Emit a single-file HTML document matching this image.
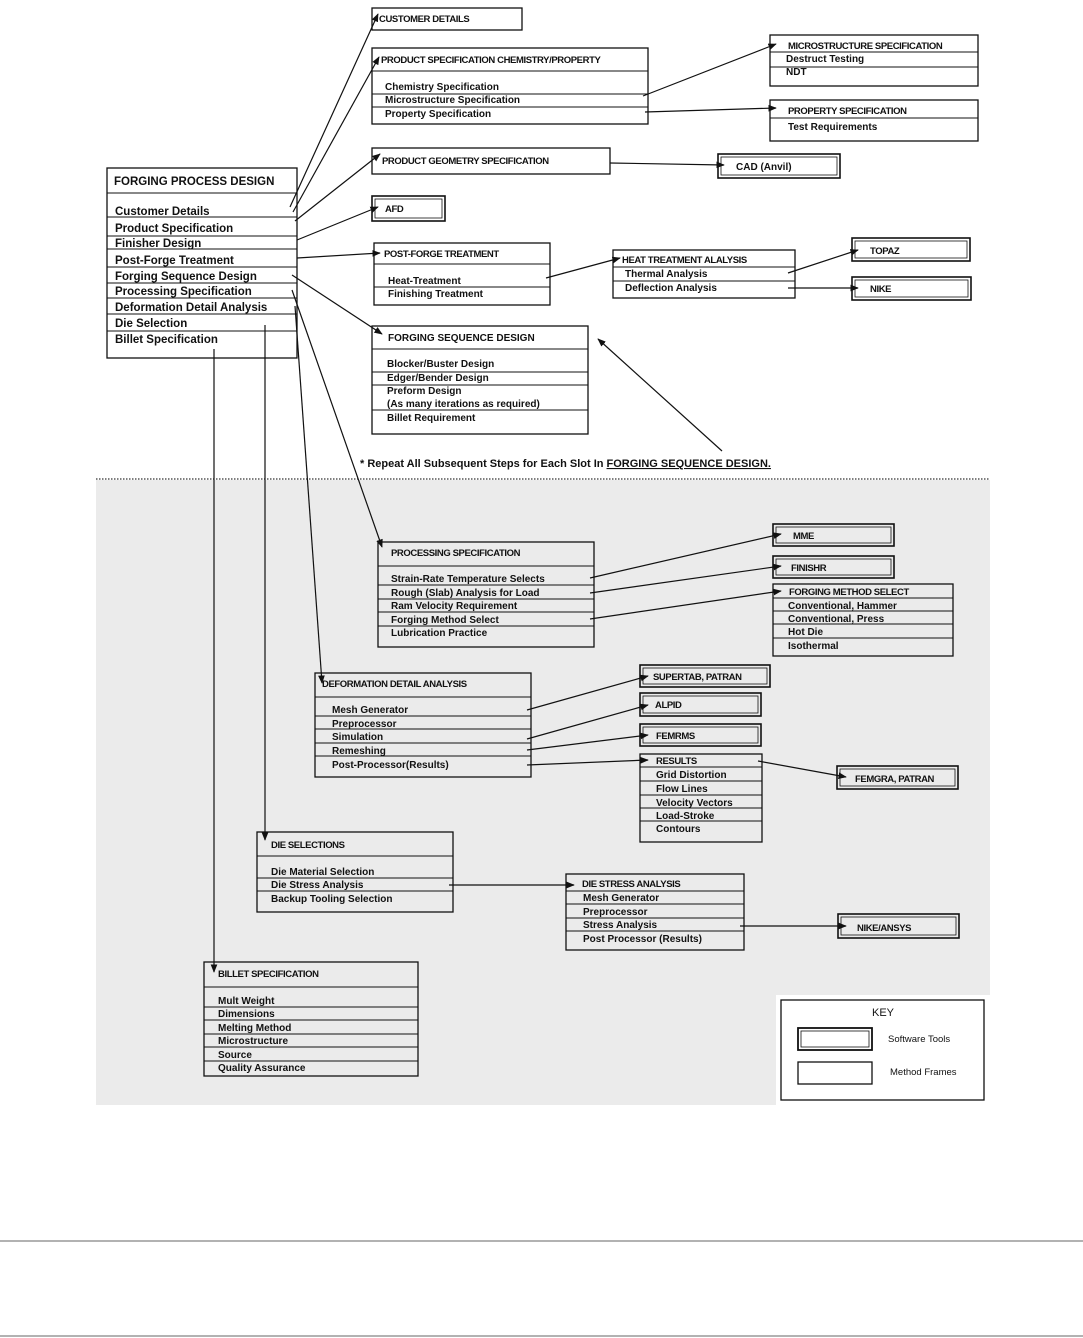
<!DOCTYPE html>
<html><head><meta charset="utf-8"><style>
html,body{margin:0;padding:0;background:#fff;}
svg{display:block;}
text{font-family:"Liberation Sans",Arial,sans-serif;font-weight:bold;font-size:10px;fill:#111;}
.t{font-size:9.5px;letter-spacing:-0.4px;}
.b{fill:none;stroke:#111;stroke-width:1.3;}
.l{stroke:#111;stroke-width:1.1;}
.c{stroke:#111;stroke-width:1.2;fill:none;}
</style></head><body>
<svg width="1083" height="1338" viewBox="0 0 1083 1338" xmlns="http://www.w3.org/2000/svg">
<defs><marker id="a" viewBox="0 0 10 10" refX="9" refY="5" markerWidth="7" markerHeight="7" orient="auto"><path d="M0,1 L10,5 L0,9 z" fill="#111"/></marker></defs>
<!-- gray area -->
<path d="M96,480 H990 V995 H776 V1105 H96 Z" fill="#ebebeb"/>
<line x1="96" y1="479" x2="990" y2="479" stroke="#555" stroke-width="1.5" stroke-dasharray="1.5,1.5"/>
<line x1="0" y1="1241" x2="1083" y2="1241" stroke="#666" stroke-width="1"/>
<line x1="0" y1="1336" x2="1083" y2="1336" stroke="#666" stroke-width="1"/>

<!-- FORGING PROCESS DESIGN -->
<rect class="b" x="107" y="168" width="190" height="190"/>
<g class="l"><line x1="107" y1="193" x2="297" y2="193"/><line x1="107" y1="217" x2="297" y2="217"/><line x1="107" y1="236" x2="297" y2="236"/><line x1="107" y1="249" x2="297" y2="249"/><line x1="107" y1="267" x2="297" y2="267"/><line x1="107" y1="283" x2="297" y2="283"/><line x1="107" y1="298" x2="297" y2="298"/><line x1="107" y1="314" x2="297" y2="314"/><line x1="107" y1="331" x2="297" y2="331"/></g>
<g style="font-size:11.5px">
<text x="114" y="185" style="font-size:11.5px">FORGING PROCESS DESIGN</text>
<text x="115" y="215" style="font-size:11.5px">Customer  Details</text>
<text x="115" y="232" style="font-size:11.5px">Product  Specification</text>
<text x="115" y="247" style="font-size:11.5px">Finisher  Design</text>
<text x="115" y="264" style="font-size:11.5px">Post-Forge  Treatment</text>
<text x="115" y="280" style="font-size:11.5px">Forging  Sequence  Design</text>
<text x="115" y="295" style="font-size:11.5px">Processing  Specification</text>
<text x="115" y="311" style="font-size:11.5px">Deformation  Detail  Analysis</text>
<text x="115" y="327" style="font-size:11.5px">Die  Selection</text>
<text x="115" y="343" style="font-size:11.5px">Billet  Specification</text>
</g>

<!-- CUSTOMER DETAILS -->
<rect class="b" x="372" y="8" width="150" height="22"/>
<text class="t" x="379" y="22">CUSTOMER DETAILS</text>

<!-- PRODUCT SPEC CHEM -->
<rect class="b" x="372" y="48" width="276" height="76"/>
<g class="l"><line x1="372" y1="71" x2="648" y2="71"/><line x1="372" y1="94" x2="648" y2="94"/><line x1="372" y1="107" x2="648" y2="107"/></g>
<text class="t" x="381" y="63">PRODUCT SPECIFICATION CHEMISTRY/PROPERTY</text>
<text x="385" y="90">Chemistry  Specification</text>
<text x="385" y="103">Microstructure  Specification</text>
<text x="385" y="117">Property  Specification</text>

<!-- MICRO SPEC -->
<rect class="b" x="770" y="35" width="208" height="51"/>
<g class="l"><line x1="770" y1="52" x2="978" y2="52"/><line x1="770" y1="67" x2="978" y2="67"/></g>
<text class="t" x="788" y="49">MICROSTRUCTURE SPECIFICATION</text>
<text x="786" y="62">Destruct  Testing</text>
<text x="786" y="75">NDT</text>

<!-- PROPERTY SPEC -->
<rect class="b" x="770" y="100" width="208" height="41"/>
<line class="l" x1="770" y1="118" x2="978" y2="118"/>
<text class="t" x="788" y="114">PROPERTY SPECIFICATION</text>
<text x="788" y="130">Test  Requirements</text>

<!-- GEOMETRY -->
<rect class="b" x="372" y="148" width="238" height="26"/>
<text class="t" x="382" y="164">PRODUCT GEOMETRY SPECIFICATION</text>

<!-- CAD -->
<rect class="b" x="718" y="154" width="122" height="24" style="stroke-width:1.6"/>
<rect class="b" x="721" y="157" width="116" height="18" style="stroke-width:0.8"/>
<text x="736" y="170">CAD  (Anvil)</text>

<!-- AFD -->
<rect class="b" x="372" y="196" width="73" height="25" style="stroke-width:1.6"/>
<rect class="b" x="375" y="199" width="67" height="19" style="stroke-width:0.8"/>
<text class="t" x="385" y="212">AFD</text>

<!-- POST-FORGE -->
<rect class="b" x="374" y="243" width="176" height="62"/>
<g class="l"><line x1="374" y1="264" x2="550" y2="264"/><line x1="374" y1="287" x2="550" y2="287"/></g>
<text class="t" x="384" y="257">POST-FORGE TREATMENT</text>
<text x="388" y="284">Heat-Treatment</text>
<text x="388" y="297">Finishing  Treatment</text>

<!-- HEAT TREATMENT -->
<rect class="b" x="613" y="250" width="182" height="48"/>
<g class="l"><line x1="613" y1="267" x2="795" y2="267"/><line x1="613" y1="281" x2="795" y2="281"/></g>
<text class="t" x="622" y="263">HEAT TREATMENT ALALYSIS</text>
<text x="625" y="277">Thermal  Analysis</text>
<text x="625" y="291">Deflection  Analysis</text>

<!-- TOPAZ / NIKE -->
<rect class="b" x="852" y="238" width="118" height="23" style="stroke-width:1.6"/>
<rect class="b" x="855" y="241" width="112" height="17" style="stroke-width:0.8"/>
<text class="t" x="870" y="254">TOPAZ</text>
<rect class="b" x="852" y="277" width="119" height="23" style="stroke-width:1.6"/>
<rect class="b" x="855" y="280" width="113" height="17" style="stroke-width:0.8"/>
<text class="t" x="870" y="292">NIKE</text>

<!-- FORGING SEQUENCE DESIGN -->
<rect class="b" x="372" y="326" width="216" height="108"/>
<g class="l"><line x1="372" y1="349" x2="588" y2="349"/><line x1="372" y1="372" x2="588" y2="372"/><line x1="372" y1="385" x2="588" y2="385"/><line x1="372" y1="410" x2="588" y2="410"/></g>
<text x="388" y="341">FORGING SEQUENCE DESIGN</text>
<text x="387" y="367">Blocker/Buster  Design</text>
<text x="387" y="381">Edger/Bender  Design</text>
<text x="387" y="394">Preform  Design</text>
<text x="387" y="407">(As  many  iterations  as  required)</text>
<text x="387" y="421">Billet  Requirement</text>

<text x="360" y="467" style="font-size:11px">* Repeat  All  Subsequent  Steps  for  Each  Slot  In  <tspan text-decoration="underline">FORGING SEQUENCE DESIGN.</tspan></text>

<!-- PROCESSING SPEC -->
<rect class="b" x="378" y="542" width="216" height="105"/>
<g class="l"><line x1="378" y1="566" x2="594" y2="566"/><line x1="378" y1="585" x2="594" y2="585"/><line x1="378" y1="599" x2="594" y2="599"/><line x1="378" y1="612" x2="594" y2="612"/><line x1="378" y1="626" x2="594" y2="626"/></g>
<text class="t" x="391" y="556">PROCESSING SPECIFICATION</text>
<text x="391" y="582">Strain-Rate  Temperature  Selects</text>
<text x="391" y="596">Rough  (Slab)  Analysis  for  Load</text>
<text x="391" y="609">Ram  Velocity  Requirement</text>
<text x="391" y="623">Forging  Method  Select</text>
<text x="391" y="636">Lubrication  Practice</text>

<!-- MME / FINISHR -->
<rect class="b" x="773" y="524" width="121" height="22" style="stroke-width:1.6"/>
<rect class="b" x="776" y="527" width="115" height="16" style="stroke-width:0.8"/>
<text class="t" x="793" y="539">MME</text>
<rect class="b" x="773" y="556" width="121" height="22" style="stroke-width:1.6"/>
<rect class="b" x="776" y="559" width="115" height="16" style="stroke-width:0.8"/>
<text class="t" x="791" y="571">FINISHR</text>

<!-- FORGING METHOD SELECT -->
<rect class="b" x="773" y="584" width="180" height="72"/>
<g class="l"><line x1="773" y1="598" x2="953" y2="598"/><line x1="773" y1="611" x2="953" y2="611"/><line x1="773" y1="624" x2="953" y2="624"/><line x1="773" y1="638" x2="953" y2="638"/></g>
<text class="t" x="789" y="595">FORGING METHOD SELECT</text>
<text x="788" y="609">Conventional,  Hammer</text>
<text x="788" y="622">Conventional,  Press</text>
<text x="788" y="635">Hot  Die</text>
<text x="788" y="649">Isothermal</text>

<!-- DEFORMATION -->
<rect class="b" x="315" y="673" width="216" height="104"/>
<g class="l"><line x1="315" y1="697" x2="531" y2="697"/><line x1="315" y1="716" x2="531" y2="716"/><line x1="315" y1="729" x2="531" y2="729"/><line x1="315" y1="743" x2="531" y2="743"/><line x1="315" y1="756" x2="531" y2="756"/></g>
<text class="t" x="322" y="687">DEFORMATION DETAIL ANALYSIS</text>
<text x="332" y="713">Mesh  Generator</text>
<text x="332" y="727">Preprocessor</text>
<text x="332" y="740">Simulation</text>
<text x="332" y="754">Remeshing</text>
<text x="332" y="768">Post-Processor(Results)</text>

<!-- SUPERTAB / ALPID / FEMRMS -->
<rect class="b" x="640" y="665" width="130" height="22" style="stroke-width:1.6"/>
<rect class="b" x="643" y="668" width="124" height="16" style="stroke-width:0.8"/>
<text class="t" x="653" y="680">SUPERTAB, PATRAN</text>
<rect class="b" x="640" y="693" width="121" height="23" style="stroke-width:1.6"/>
<rect class="b" x="643" y="696" width="115" height="17" style="stroke-width:0.8"/>
<text class="t" x="655" y="708">ALPID</text>
<rect class="b" x="640" y="724" width="121" height="22" style="stroke-width:1.6"/>
<rect class="b" x="643" y="727" width="115" height="16" style="stroke-width:0.8"/>
<text class="t" x="656" y="739">FEMRMS</text>

<!-- RESULTS -->
<rect class="b" x="640" y="754" width="122" height="88"/>
<g class="l"><line x1="640" y1="767" x2="762" y2="767"/><line x1="640" y1="781" x2="762" y2="781"/><line x1="640" y1="795" x2="762" y2="795"/><line x1="640" y1="808" x2="762" y2="808"/><line x1="640" y1="821" x2="762" y2="821"/></g>
<text class="t" x="656" y="764">RESULTS</text>
<text x="656" y="778">Grid  Distortion</text>
<text x="656" y="792">Flow  Lines</text>
<text x="656" y="806">Velocity  Vectors</text>
<text x="656" y="819">Load-Stroke</text>
<text x="656" y="832">Contours</text>

<!-- FEMGRA -->
<rect class="b" x="837" y="766" width="121" height="23" style="stroke-width:1.6"/>
<rect class="b" x="840" y="769" width="115" height="17" style="stroke-width:0.8"/>
<text class="t" x="855" y="782">FEMGRA, PATRAN</text>

<!-- DIE SELECTIONS -->
<rect class="b" x="257" y="832" width="196" height="80"/>
<g class="l"><line x1="257" y1="856" x2="453" y2="856"/><line x1="257" y1="878" x2="453" y2="878"/><line x1="257" y1="891" x2="453" y2="891"/></g>
<text class="t" x="271" y="848">DIE SELECTIONS</text>
<text x="271" y="875">Die  Material  Selection</text>
<text x="271" y="888">Die  Stress  Analysis</text>
<text x="271" y="902">Backup  Tooling  Selection</text>

<!-- DIE STRESS ANALYSIS -->
<rect class="b" x="566" y="874" width="178" height="76"/>
<g class="l"><line x1="566" y1="891" x2="744" y2="891"/><line x1="566" y1="904" x2="744" y2="904"/><line x1="566" y1="918" x2="744" y2="918"/><line x1="566" y1="931" x2="744" y2="931"/></g>
<text class="t" x="582" y="887">DIE STRESS ANALYSIS</text>
<text x="583" y="901">Mesh  Generator</text>
<text x="583" y="915">Preprocessor</text>
<text x="583" y="928">Stress  Analysis</text>
<text x="583" y="942">Post  Processor  (Results)</text>

<!-- NIKE/ANSYS -->
<rect class="b" x="838" y="914" width="121" height="24" style="stroke-width:1.6"/>
<rect class="b" x="841" y="917" width="115" height="18" style="stroke-width:0.8"/>
<text class="t" x="857" y="931">NIKE/ANSYS</text>

<!-- BILLET SPEC -->
<rect class="b" x="204" y="962" width="214" height="114"/>
<g class="l"><line x1="204" y1="987" x2="418" y2="987"/><line x1="204" y1="1007" x2="418" y2="1007"/><line x1="204" y1="1020" x2="418" y2="1020"/><line x1="204" y1="1034" x2="418" y2="1034"/><line x1="204" y1="1047" x2="418" y2="1047"/><line x1="204" y1="1061" x2="418" y2="1061"/></g>
<text class="t" x="218" y="977">BILLET SPECIFICATION</text>
<text x="218" y="1004">Mult  Weight</text>
<text x="218" y="1017">Dimensions</text>
<text x="218" y="1031">Melting  Method</text>
<text x="218" y="1044">Microstructure</text>
<text x="218" y="1058">Source</text>
<text x="218" y="1071">Quality  Assurance</text>

<!-- KEY -->
<rect x="781" y="1000" width="203" height="100" fill="#fff" stroke="#111" stroke-width="1.3"/>
<text x="872" y="1016" style="font-weight:normal;font-size:11px">KEY</text>
<rect class="b" x="798" y="1028" width="74" height="22" style="stroke-width:1.8"/>
<rect class="b" x="801" y="1031" width="68" height="16" style="stroke-width:0.8"/>
<text x="888" y="1042" style="font-weight:normal;font-size:9.5px">Software  Tools</text>
<rect class="b" x="798" y="1062" width="74" height="22"/>
<text x="890" y="1075" style="font-weight:normal;font-size:9.5px">Method  Frames</text>

<!-- connectors -->
<g class="c" marker-end="url(#a)">
<line x1="290" y1="207" x2="378" y2="14"/>
<line x1="293" y1="212" x2="379" y2="57"/>
<line x1="295" y1="221" x2="380" y2="154"/>
<line x1="297" y1="240" x2="378" y2="207"/>
<line x1="297" y1="258" x2="380" y2="253"/>
<line x1="292" y1="275" x2="382" y2="334"/>
<path d="M292,290 L382,547"/>
<path d="M295,306 L322,683"/>
<line x1="265" y1="325" x2="265" y2="840"/>
<line x1="214" y1="349" x2="214" y2="972"/>
<line x1="643" y1="96" x2="776" y2="44"/>
<line x1="645" y1="112" x2="776" y2="108"/>
<line x1="610" y1="163" x2="724" y2="165"/>
<line x1="546" y1="278" x2="620" y2="258"/>
<line x1="788" y1="273" x2="858" y2="250"/>
<line x1="788" y1="288" x2="858" y2="288"/>
<line x1="722" y1="451" x2="598" y2="339"/>
<line x1="590" y1="578" x2="781" y2="534"/>
<line x1="590" y1="593" x2="781" y2="566"/>
<line x1="590" y1="619" x2="781" y2="591"/>
<line x1="527" y1="710" x2="648" y2="676"/>
<line x1="527" y1="739" x2="648" y2="705"/>
<line x1="527" y1="750" x2="648" y2="735"/>
<line x1="527" y1="765" x2="648" y2="760"/>
<line x1="758" y1="761" x2="846" y2="777"/>
<line x1="449" y1="885" x2="574" y2="885"/>
<line x1="740" y1="926" x2="846" y2="926"/>
</g>
</svg>
</body></html>
